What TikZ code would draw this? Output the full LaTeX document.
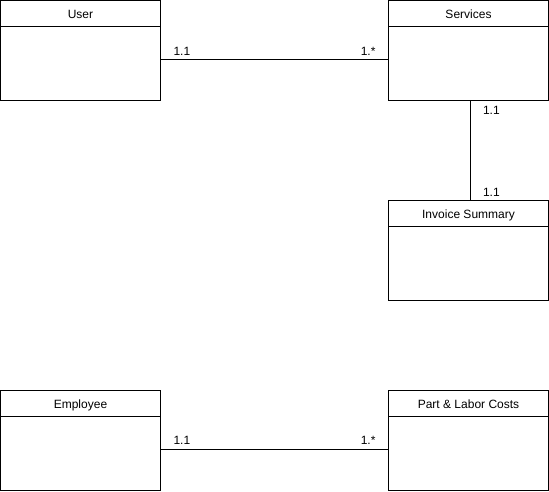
\documentclass[tikz,border=0pt]{standalone}
\usepackage{fontspec}
\setmainfont{Liberation Sans}
\usetikzlibrary{positioning}
\tikzset{
  entity/.style={draw, line width=1pt, minimum width=160, minimum height=100, inner sep=0},
  head/.style={draw, line width=1pt, minimum width=160, minimum height=26, inner sep=0,
    text height=10.5, text depth=0, anchor=north, font=\fontsize{12}{14}\selectfont},
  link/.style={line width=1pt},
  mult/.style={inner sep=2, font=\fontsize{12}{14}\selectfont}
}

\begin{document}
\begin{tikzpicture}[x=1pt, y=-1pt]
        \useasboundingbox (0,0) rectangle (549,491);
        % boxes
        \node[entity] (user) at (80.5,50.5) {};
        \node[head] (userhead) at (user.north) {User};
        \node[entity] (services) at (468.5,50.5) {};
        \node[head] (serviceshead) at (services.north) {Services};
        \node[entity] (invoice) at (468.5,250) {};
        \node[head] (invoicehead) at (invoice.north) {Invoice Summary};
        \node[entity] (employee) at (80.5,440) {};
        \node[head] (employeehead) at (employee.north) {Employee};
        \node[entity] (costs) at (468.5,440) {};
        \node[head] (costshead) at (costs.north) {Part \& Labor Costs};
        % links
        \draw[link] ([yshift=-9]user.east) -- ([yshift=-9]services.west)
            node[mult, pos=0, anchor=south west, xshift=10, yshift=2] {1.1}
            node[mult, pos=1, anchor=south east, xshift=-10, yshift=2] {1.*};
        \draw[link] ([xshift=2]services.south) -- ([xshift=2]invoice.north)
            node[mult, pos=0, anchor=north west, xshift=10, yshift=-3] {1.1}
            node[mult, pos=1, anchor=south west, xshift=10, yshift=1] {1.1};
        \draw[link] ([yshift=-9]employee.east) -- ([yshift=-9]costs.west)
            node[mult, pos=0, anchor=south west, xshift=10, yshift=2] {1.1}
            node[mult, pos=1, anchor=south east, xshift=-10, yshift=2] {1.*};
    \end{tikzpicture}
\end{document}
